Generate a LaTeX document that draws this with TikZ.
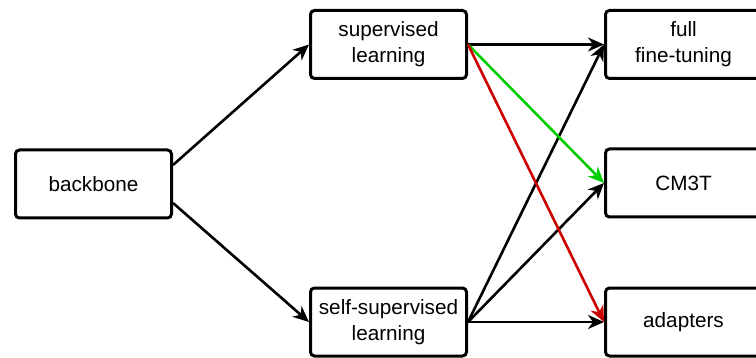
\documentclass[tikz,border=0pt]{standalone}
\usepackage{fontspec}
\setmainfont{Liberation Sans}
\usetikzlibrary{arrows.meta}
\definecolor{arrgreen}{RGB}{0,204,0}
\definecolor{arrred}{RGB}{204,0,0}
\begin{document}
\begin{tikzpicture}[x=0.5pt, y=-0.5pt,
    box/.style={draw, line width=1.5pt, rounded corners=2pt, minimum width=78pt,
        minimum height=34pt, align=center, inner sep=0pt,
        font=\fontsize{10.35}{13}\selectfont},
    arr/.style={-{Stealth[length=8pt, width=7pt, inset=2.5pt]}, line width=1.3pt}]
    \useasboundingbox (0,0) rectangle (756,358);
    \node[box] (bb) at (93.5,184) {backbone};
    \node[box] (sup) at (388.5,44.5) {supervised\\learning};
    \node[box] (ssl) at (388.5,322) {self-supervised\\learning};
    \node[box] (full) at (683.5,44.5) {full\\fine-tuning};
    \node[box] (cm) at (683.5,183) {CM3T};
    \node[box] (ada) at (683.5,322) {adapters};
    \draw[arr] ([yshift=9.5pt]bb.east) -- (sup.west);
    \draw[arr] ([yshift=-9.5pt]bb.east) -- (ssl.west);
    \draw[arr] (sup.east) -- (full.west);
    \draw[arr] (ssl.east) -- (full.west);
    \draw[arr] (ssl.east) -- (cm.west);
    \draw[arr] (ssl.east) -- (ada.west);
    \draw[arr, arrgreen] (sup.east) -- (cm.west);
    \draw[arr, arrred] (sup.east) -- (ada.west);
\end{tikzpicture}
\end{document}
